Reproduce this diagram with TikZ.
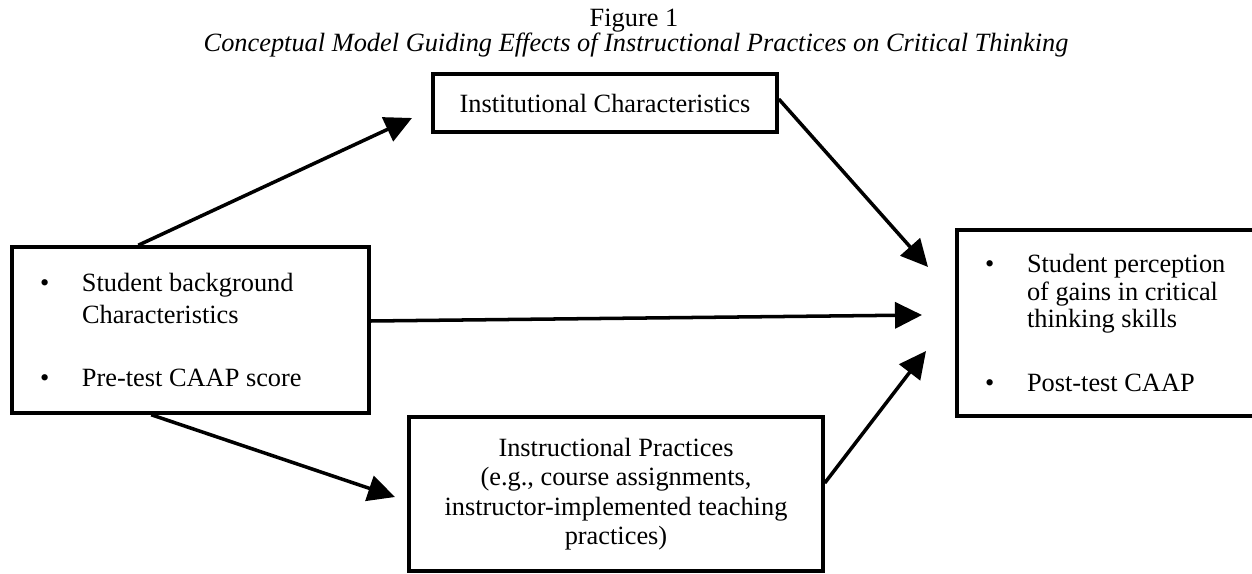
\documentclass[tikz,border=0pt]{standalone}
\usepackage{fontspec}
\setmainfont{Liberation Serif}
\usetikzlibrary{positioning,arrows.meta,calc}
\newcommand{\bulitem}{\makebox[0.84cm][l]{\textbullet}}
\newcommand{\bulskip}{\hspace*{0.84cm}}

\begin{document}
\begin{tikzpicture}[
  font=\fontsize{15}{17}\selectfont,
  box/.style={draw, line width=2pt, inner sep=0pt, align=center},
  listbox/.style={draw, line width=2pt, inner xsep=0.56cm, inner ysep=0pt,
                  align=left, execute at begin node={\spaceskip=0pt\xspaceskip=0pt}},
  arrow/.style={-{Triangle[length=0.54cm,width=0.52cm]}, line width=2pt},
]
\useasboundingbox (0,0) rectangle (25.04,11.46);

\node[anchor=base] (fig) at (12.68,10.92) {Figure 1};
\node[anchor=base, font=\fontsize{15}{17}\selectfont\itshape] (caption) at (12.72,10.42)
  {Conceptual Model Guiding Effects of Instructional Practices on Critical Thinking};

\node[box, minimum width=6.88cm, minimum height=1.16cm] (inst) at (12.10,9.40)
  {Institutional Characteristics};

\node[listbox, text width=6.02cm, minimum height=3.32cm,
      font=\fontsize{15}{17.9}\selectfont] (stud) at (3.81,4.86)
  {\bulitem Student background\\ \bulskip Characteristics\\[17.9pt]
   \bulitem Pre-test CAAP score};

\node[listbox, text width=5.28cm, minimum height=3.72cm,
      font=\fontsize{15}{15.6}\selectfont] (gain) at (22.34,5.00)
  {\bulitem Student perception\\ \bulskip of gains in critical\\
   \bulskip thinking skills\\[20.8pt]
   \bulitem Post-test CAAP};

\node[box, minimum width=8.28cm, minimum height=3.08cm,
      font=\fontsize{15}{16.8}\selectfont] (prac) at (12.32,1.58)
  {Instructional Practices\\ (e.g., course assignments,\\
   instructor-implemented teaching\\ practices)};

% free ends of the arrows
\coordinate (t1) at (8.24,9.10);
\coordinate (t2) at (18.56,6.12);
\coordinate (t3) at (18.44,5.16);
\coordinate (t4) at (7.90,1.52);
\coordinate (t5) at (18.52,4.44);

\draw[arrow] ($(stud.north west)+(2.56,0)$) -- (t1);
\draw[arrow] ($(inst.east)+(0,0.08)$) -- (t2);
\draw[arrow] ($(stud.east)+(0,0.18)$) -- (t3);
\draw[arrow] ($(stud.south west)+(2.82,0)$) -- (t4);
\draw[arrow] ($(prac.east)+(0,0.22)$) -- (t5);
\end{tikzpicture}
\end{document}
